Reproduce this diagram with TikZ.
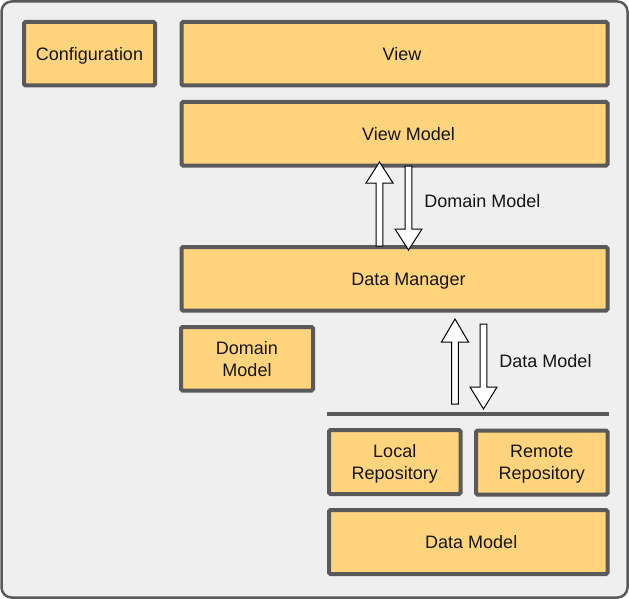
\documentclass[tikz,border=0pt]{standalone}
\usepackage{fontspec}
\setmainfont{Liberation Sans}
\usetikzlibrary{calc}
\definecolor{boxfill}{HTML}{FFD47C}
\definecolor{boxline}{HTML}{5A5A5A}
\definecolor{bgfill}{HTML}{EFEFEF}
\definecolor{txtcol}{HTML}{151515}
\newcommand\blockarr[4]{%
  \pgfmathsetmacro\hb{#2>#3 ? #3+#4 : #3-#4}%
  \draw[arr] (#1-3.3,#2) -- (#1-3.3,\hb) -- (#1-13.5,\hb) -- (#1,#3)
    -- (#1+13.5,\hb) -- (#1+3.3,\hb) -- (#1+3.3,#2) -- cycle;}
\begin{document}
\begin{tikzpicture}[x=1pt,y=-1pt,
  box/.style={draw=boxline, fill=boxfill, line width=4pt, rounded corners=1.5pt,
    inner sep=0pt, text=txtcol, font=\fontsize{18}{21.7}\selectfont,
    text height=12.9pt, text depth=0pt},
  boxtwo/.style={draw=boxline, fill=boxfill, line width=4pt, rounded corners=1.5pt,
    inner sep=0pt, text=txtcol, font=\fontsize{18}{21.7}\selectfont, align=center},
  lbl/.style={inner sep=0pt, text=txtcol, font=\fontsize{18}{21.7}\selectfont,
    text height=12.9pt, text depth=0pt},
  arr/.style={draw=black, fill=white, line width=1pt, line join=miter},
  sep/.style={draw=boxline, line width=4pt}]
\useasboundingbox (0,0) rectangle (629,599);
\draw[draw=boxline, fill=bgfill, line width=2.5pt, rounded corners=10pt]
  (1.5,1.5) rectangle (627.5,597.5);
% boxes
\node[box, minimum width=131pt, minimum height=63.5pt] (conf) at (89.5,53.75) {Configuration};
\node[box, minimum width=426pt, minimum height=63.5pt,
  label={[lbl,xshift=7.5pt]center:View}] (view) at (394.5,53.75) {};
\node[box, minimum width=426pt, minimum height=63.5pt,
  label={[lbl,xshift=14pt]center:View Model}] (vm) at (394.5,133.75) {};
\node[box, minimum width=426pt, minimum height=63.5pt,
  label={[lbl,xshift=14pt]center:Data Manager}] (dm) at (394.5,278.75) {};
\node[boxtwo, minimum width=132pt, minimum height=63.5pt] (dom) at (247,358.75) {Domain\\Model};
\node[boxtwo, minimum width=131.5pt, minimum height=64pt] (local) at (394.75,462) {Local\\\smash{Repository}};
\node[boxtwo, minimum width=131.5pt, minimum height=64pt] (remote) at (541.75,462.5) {Remote\\\smash{Repository}};
\node[box, minimum width=278.5pt, minimum height=64pt,
  label={[lbl,xshift=3pt]center:Data Model}] (dmodel) at (468.25,542) {};
% separator line
\coordinate (sepl) at (327,414);
\coordinate (sepr) at (609,414);
\draw[sep] (sepl) -- (sepr);
% block arrows
\blockarr{379.5}{246}{162}{21}
\blockarr{408.5}{166}{250}{21}
\blockarr{455}{404}{319}{23}
\blockarr{483.5}{324}{409}{22}
% arrow labels
\node[lbl] (domlbl) at (482.5,201) {Domain Model};
\node[lbl] (datlbl) at (545.5,361) {Data Model};
\end{tikzpicture}
\end{document}
